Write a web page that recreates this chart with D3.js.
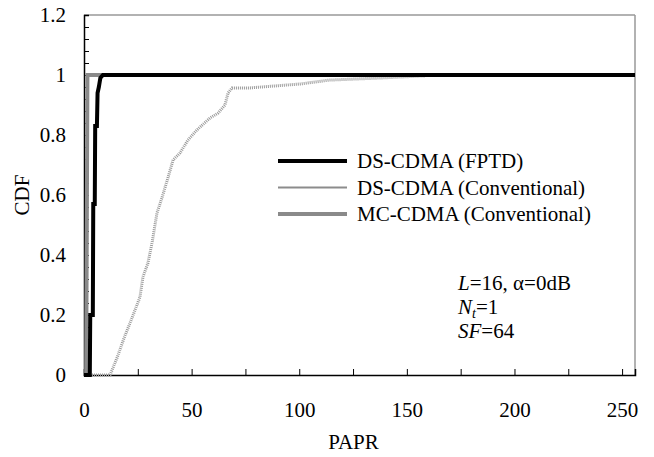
<!DOCTYPE html>
<html>
<head>
<meta charset="utf-8">
<script src="https://cdn.jsdelivr.net/npm/d3@7"></script>
<style>
  body { margin: 0; background: #fff; }
  svg text { font-family: "Liberation Serif", "Times New Roman", Times, "DejaVu Serif", serif; fill: #000; }
</style>
</head>
<body>
<svg id="chart" width="654" height="457"></svg>
<script>
// values
const fptdPapr = [0, 2.7, 2.9, 4.1, 4.3, 5.0, 5.2, 6.0, 6.3, 6.9, 7.6, 8.8, 256];
const fptdCdf  = [0, 0,   0.2, 0.2, 0.57, 0.57, 0.83, 0.83, 0.94, 0.96, 0.99, 1, 1];

const convPapr = [0, 12.1, 15.5, 18.6, 22.3, 26.0, 27.4, 29.7, 31.6, 33.9, 36.2, 39.0, 41.4, 44.6, 48.3, 52.5, 58.6, 62.3, 65.5, 66.9, 68.8, 77.1, 100.4, 114, 137.5, 158, 160];
const convCdf  = [0, 0,    0.06, 0.123, 0.19, 0.26, 0.327, 0.373, 0.44, 0.54, 0.59, 0.657, 0.717, 0.74, 0.783, 0.817, 0.857, 0.873, 0.90, 0.94, 0.957, 0.957, 0.97, 0.983, 0.99, 0.997, 1];

const mcPapr = [0, 1.0, 1.3, 1.6, 256];
const mcCdf  = [0, 0,   0.5, 1,   1];

const xTickLabels = [0, 50, 100, 150, 200, 250];
const yTickLabels = [0, 0.2, 0.4, 0.6, 0.8, 1, 1.2];

const seriesNames = ["DS-CDMA (FPTD)", "DS-CDMA (Conventional)", "MC-CDMA (Conventional)"];

const svg = d3.select("#chart");
const margin = { top: 15, right: 19, bottom: 82, left: 84 };
const width = 654, height = 457;
const innerWidth = width - margin.left - margin.right;
const innerHeight = height - margin.top - margin.bottom;

const x = d3.scaleLinear().domain([0, 256]).range([0, innerWidth]);
const y = d3.scaleLinear().domain([0, 1.2]).range([innerHeight, 0]);

const g = svg.append("g")
    .attr("transform", `translate(${margin.left},${margin.top})`);

// grey frame on top and right
g.append("line")
    .attr("x1", x(0)).attr("x2", x(256)).attr("y1", y(1.2)).attr("y2", y(1.2))
    .attr("stroke", "#999").attr("stroke-width", 1.5);
g.append("line")
    .attr("x1", x(256)).attr("x2", x(256)).attr("y1", y(1.2)).attr("y2", y(0))
    .attr("stroke", "#999").attr("stroke-width", 1.5);

const xTicks = d3.range(0, 251, 25);
const yTicks = d3.range(31).map(i => +(i * 0.04).toFixed(2));

const xAxis = g.append("g")
    .attr("transform", `translate(0,${innerHeight})`)
    .call(d3.axisBottom(x)
        .tickValues(xTicks)
        .tickSize(-6)
        .tickPadding(27));

const yAxis = g.append("g")
    .call(d3.axisLeft(y)
        .tickValues(yTicks)
        .tickSize(-5)
        .tickPadding(18)
        .tickFormat(d => String(d)));

// keep labels only on the major ticks
xAxis.selectAll(".tick text").filter(d => !xTickLabels.includes(d)).remove();
yAxis.selectAll(".tick text").filter(d => !yTickLabels.includes(d)).remove();

[xAxis, yAxis].forEach(a => {
    a.attr("font-family", null);
    a.select(".domain").attr("stroke", "#000").attr("stroke-width", 1.5);
    a.selectAll(".tick line").attr("stroke", "#000").attr("stroke-width", 1);
    a.selectAll("text").attr("font-size", 21);
});

const line = d3.line().x(d => x(d[0])).y(d => y(d[1]));
const zip = (a, b) => a.map((v, i) => [v, b[i]]);

g.append("path")
    .datum(zip(mcPapr, mcCdf))
    .attr("d", line)
    .attr("fill", "none")
    .attr("stroke", "#8a8a8a")
    .attr("stroke-width", 4);

g.append("path")
    .datum(zip(convPapr, convCdf))
    .attr("d", line)
    .attr("fill", "none")
    .attr("stroke", "#9a9a9a")
    .attr("stroke-width", 3)
    .attr("stroke-dasharray", "1 1");

g.append("path")
    .datum(zip(fptdPapr, fptdCdf))
    .attr("d", line)
    .attr("fill", "none")
    .attr("stroke", "#000")
    .attr("stroke-width", 4);

// axis titles
svg.append("text")
    .attr("x", margin.left + x(128) - 6)
    .attr("y", 449)
    .attr("text-anchor", "middle")
    .attr("font-size", 21)
    .text("PAPR");

svg.append("text")
    .attr("transform", "translate(29,195) rotate(-90)")
    .attr("text-anchor", "middle")
    .attr("font-size", 21)
    .text("CDF");

// legend
const legendStyles = [
    { stroke: "#000", width: 4 },
    { stroke: "#8c8c8c", width: 2 },
    { stroke: "#8a8a8a", width: 4 }
];
const legend = svg.append("g");
seriesNames.forEach((name, i) => {
    const ly = 161 + i * 26.5;
    legend.append("line")
        .attr("x1", 278).attr("x2", 347).attr("y1", ly).attr("y2", ly)
        .attr("stroke", legendStyles[i].stroke)
        .attr("stroke-width", legendStyles[i].width);
    legend.append("text")
        .attr("x", 357).attr("y", ly + 7)
        .attr("font-size", 21)
        .text(name);
});

// parameters note
const note = svg.append("g").attr("font-size", 21);
const t1 = note.append("text").attr("x", 458).attr("y", 290);
t1.append("tspan").attr("font-style", "italic").text("L");
t1.append("tspan").text("=16, \u03b1=0dB");

const t2 = note.append("text").attr("x", 458).attr("y", 314);
t2.append("tspan").attr("font-style", "italic").text("N");
t2.append("tspan").attr("font-style", "italic").attr("font-size", 14).attr("dy", 4).text("t");
t2.append("tspan").attr("dy", -4).text("=1");

const t3 = note.append("text").attr("x", 458).attr("y", 338);
t3.append("tspan").attr("font-style", "italic").text("SF");
t3.append("tspan").text("=64");
</script>
</body>
</html>
